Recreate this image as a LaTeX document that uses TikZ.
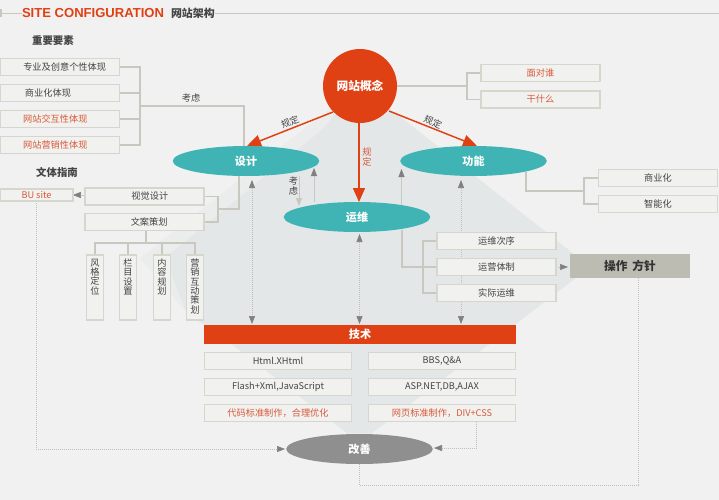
\documentclass[tikz,border=0pt]{standalone}
\usepackage{fontspec}
\setmainfont{Noto Sans CJK SC}
\newfontfamily\lib{Liberation Sans}
\usetikzlibrary{arrows.meta,backgrounds,shapes.geometric}
\definecolor{bgc}{HTML}{F1F1F1}
\definecolor{dia}{HTML}{E4E7E7}
\definecolor{dial}{HTML}{EBEDED}
\definecolor{boxf}{HTML}{F1F1EF}
\definecolor{boxl}{HTML}{D6D6CC}
\definecolor{linec}{HTML}{C8C8C0}
\definecolor{orng}{HTML}{E04114}
\definecolor{otext}{HTML}{D8593A}
\definecolor{teal}{HTML}{40B4B4}
\definecolor{grayf}{HTML}{8F8F8F}
\definecolor{opsf}{HTML}{BDBCB2}
\definecolor{dark}{HTML}{444444}
\newcommand\ls[2]{\hspace*{#1}#2}
\newcommand\rs[2]{#2\hspace*{#1}}
\newcommand\vst[1]{\parbox[c][45pt][t]{10pt}{\centering\baselineskip=7pt\vspace*{1pt}#1}}
\newcommand\vsh[1]{\parbox{10pt}{\centering\baselineskip=7pt #1}}
\tikzset{
  x=0.75pt,y=-0.75pt,
  every node/.style={inner sep=0pt,outer sep=0pt},
  boxb/.style={draw=boxl,fill=boxf,line width=1.1pt,text=dark,font=\fontsize{6.9pt}{8pt}\selectfont},
  lbox/.style={boxb,minimum width=89pt,minimum height=12.8pt},
  cbox/.style={boxb,minimum width=110pt,minimum height=12.8pt},
  otxt/.style={text=otext},
  vbox/.style={boxb,minimum width=13pt,minimum height=48.5pt},
  oval/.style={ellipse,fill=teal,minimum width=110pt,minimum height=22.5pt,text=white,font=\fontsize{8.3pt}{10pt}\selectfont\bfseries},
  title/.style={text=dark,font=\fontsize{7.8pt}{9pt}\selectfont\bfseries},
  lab/.style={text=dark,font=\fontsize{6.9pt}{8pt}\selectfont},
  conn/.style={draw=linec,line width=.8pt},
  red/.style={draw=orng,line width=1.1pt,-{Triangle[width=9pt,length=10.5pt]}},
  garrow/.style={draw=linec,line width=.6pt,-{Triangle[width=4.5pt,length=6pt,color=gray]}},
  dots/.style={draw=gray!50,line width=.5pt,densely dotted},
  tip/.style={-{Triangle[width=4.5pt,length=6pt,color=gray]}},
  tips/.style={{Triangle[width=4.5pt,length=6pt,color=gray]}-{Triangle[width=4.5pt,length=6pt,color=gray]}},
}
\begin{document}
\begin{tikzpicture}
\useasboundingbox (0,0) rectangle (719,500);
% header
\node[anchor=west,text=orng,font=\lib\fontsize{9.8pt}{12pt}\selectfont\bfseries] (hd) at (22,13) {SITE CONFIGURATION};
\node[anchor=west,title,font=\fontsize{8.2pt}{10pt}\selectfont\bfseries] (hc) at (171,13) {网站架构};
\node[fill=linec,minimum width=1.5pt,minimum height=6.5pt] (hm) at (1,13) {};
\coordinate (hr) at (719,13);
% titles
\node[title] (t1) at (53,41) {重要要素};
\node[title] (t2) at (57,172) {文体指南};
% left boxes
\node[lbox] (l1) at (60,67) {\ls{7pt}{专业及创意个性体现}};
\node[lbox] (l2) at (60,93) {\rs{18pt}{商业化体现}};
\node[lbox,otxt] (l3) at (60,119) {\rs{7pt}{网站交互性体现}};
\node[lbox,otxt] (l4) at (60,145) {\rs{7pt}{网站营销性体现}};
\coordinate (bk1) at (140,106);
% ovals and circle
\node[circle,fill=orng,minimum size=55.5pt,text=white,font=\fontsize{8.8pt}{10pt}\selectfont\bfseries] (core) at (360,86) {网站概念};
\node[oval] (design) at (246,161) {设计};
\node[oval] (func) at (473.5,161) {功能};
\node[oval] (ops) at (357,217) {运维};
\node[oval,fill=grayf] (imp) at (359.5,449) {改善};
% doc
\node[boxb,otxt,minimum width=54.5pt,minimum height=9pt] (bu) at (36.5,195) {BU site};
\node[lbox] (vis) at (144.5,196.5) {\ls{8pt}{视觉设计}};
\node[lbox] (copy) at (144.5,222) {\ls{7pt}{文案策划}};
\coordinate (bk2) at (218,209);
\coordinate (hub) at (146,243);
\node[vbox] (v1) at (95,287.5) {\vst{风\\格\\定\\位}};
\node[vbox] (v2) at (128,287.5) {\vst{栏\\目\\设\\置}};
\node[vbox] (v3) at (162,287.5) {\vst{内\\容\\规\\划}};
\node[vbox] (v4) at (195,287.5) {\vst{营\\销\\互\\动\\策\\划}};
% right
\node[lbox] (r1) at (540.5,73) [otxt] {面对谁};
\node[lbox] (r2) at (540.5,99.5) [otxt] {干什么};
\coordinate (bk3) at (467,86);
\node[lbox] (f1) at (658,178) {商业化};
\node[lbox] (f2) at (658,204) {智能化};
\coordinate (bk4) at (584,191);
\coordinate (fa) at (526,172);
\node[lbox] (o1) at (496.5,241) {运维次序};
\node[lbox] (o2) at (496.5,267) {运营体制};
\node[lbox] (o3) at (496.5,293) {实际运维};
\coordinate (bk5) at (423,266);
\coordinate (oa) at (402,230);
\node[fill=opsf,minimum width=90.5pt,minimum height=18.5pt,text=black!80,font=\fontsize{8.8pt}{10pt}\selectfont\bfseries] (act) at (630,266) {操作\hspace{3.5pt}方针};
% tech
\node[fill=orng,minimum width=234pt,minimum height=14.3pt,text=white,font=\fontsize{8.3pt}{10pt}\selectfont\bfseries] (tech) at (360,334.5) {技术};
\node[cbox] (a1) at (278,361) {Html.XHtml};
\node[cbox] (a2) at (278,387) {Flash+Xml,JavaScript};
\node[cbox,otxt] (a3) at (278,413) {代码标准制作，合理优化};
\node[cbox] (b1) at (442,361) {BBS,Q\&A};
\node[cbox] (b2) at (442,387) {ASP.NET,DB,AJAX};
\node[cbox,otxt] (b3) at (442,413) {网页标准制作，DIV+CSS};
% labels
\node[lab] (k1) at (191,98) {考虑};
\node[lab,rotate=23] (g1) at (290,122) {规定};
\node[lab,rotate=-23] (g2) at (433,122) {规定};
\node[lab,otxt] (g3) at (367,157) {\vsh{规\\定}};
\node[lab] (k2) at (293.5,186) {\vsh{考\\虑}};
\begin{pgfonlayer}{background}
\fill[bgc] (0,0) rectangle (719,500);
\coordinate (d1) at (360,85);
\coordinate (d2) at (140,258);
\coordinate (d3) at (187,313);
\coordinate (d4) at (233,345);
\coordinate (d5) at (347,433);
\coordinate (d6) at (372,433);
\coordinate (d7) at (517,323);
\coordinate (d9) at (590,267);
\coordinate (e1) at (322,130);
\coordinate (e2) at (165,258);
\fill[dial] (d1)--(d2)--(d3)--(d4)--(d5)--(d6)--(d7)--(d9)--cycle;
\fill[dia] (d1)--(e1)--(e2)--(d3)--(d4)--(d5)--(d6)--(d7)--(d9)--cycle;
% header lines
\draw[conn,line width=.5pt] (hm) -- (hd);
\draw[conn,line width=.5pt] (hc) -- (hr);
% brackets
\foreach \n in {l1,l2,l3,l4} \draw[conn] (\n.east) -| (bk1);
\coordinate (dz) at (244,150);
\draw[conn] (bk1) -| (dz);
\draw[conn] (vis.east) -| (bk2);
\draw[conn] (copy.east) -| (bk2);
\coordinate (dy) at (239,170);
\draw[conn] (bk2) -| (dy);
\draw[conn] (copy.south -| hub) -- (hub);
\foreach \n in {v1,v2,v3,v4} \draw[conn] (hub) -| (\n.north);
\draw[conn] (core) -- (bk3);
\draw[conn] (r1.west) -| (bk3);
\draw[conn] (r2.west) -| (bk3);
\draw[conn] (f1.west) -| (bk4);
\draw[conn] (f2.west) -| (bk4);
\draw[conn] (fa) |- (bk4);
\draw[conn] (o1.west) -| (bk5);
\draw[conn] (o3.west) -| (bk5);
\draw[conn] (oa) |- (o2.west);
% red arrows
\coordinate (dt) at (247,146);
\coordinate (ft) at (477,146);
\coordinate (ct) at (333,112);
\coordinate (cf) at (389,111);
\draw[red] (ct) -- (dt);
\draw[red] (cf) -- (ft);
\coordinate (ot) at (359,202);
\draw[red] (core.south -| ot) -- (ot);
% gray arrows
\coordinate (ka) at (299,176);
\coordinate (kb) at (299,206);
\draw[draw=linec,line width=.6pt,-{Triangle[width=4.5pt,length=6pt,color=linec]}] (ka) -- (kb);
\coordinate (kc) at (314,202);
\coordinate (kd) at (314,168);
\draw[garrow] (kc) -- (kd);
\coordinate (ke) at (401.5,215);
\coordinate (kf) at (401.5,169);
\draw[garrow] (ke) -- (kf);
\draw[dots,tips] (252,180) -- (252,324);
\draw[dots,tips] (461,180) -- (461,324);
\draw[dots,tips] (359.5,234) -- (359.5,324);
\coordinate (va) at (85,195);
\coordinate (vb) at (75,195);
\draw[tip,draw=linec] (vis.west |- va) -- (bu.east |- vb);
\coordinate (oc) at (558,267);
\coordinate (od) at (568,267);
\draw[tip,draw=linec] (oc) -- (od);
% dotted returns
\coordinate (p1) at (638,485);
\coordinate (p2) at (359.5,485);
\coordinate (p3) at (359.5,435);
\draw[dots] (act.south -| p1) -- (p1) -- (p2);
\draw[dots,tip] (p2) -- (p3);
\coordinate (q1) at (476,448);
\coordinate (q2) at (434,448);
\draw[dots,tip] (b3.south -| q1) -- (q1) -- (q2);
\coordinate (s1) at (36,449);
\coordinate (s2) at (285,449);
\draw[dots,tip] (bu.south -| s1) -- (s1) -- (s2);
\end{pgfonlayer}
\end{tikzpicture}
\end{document}
